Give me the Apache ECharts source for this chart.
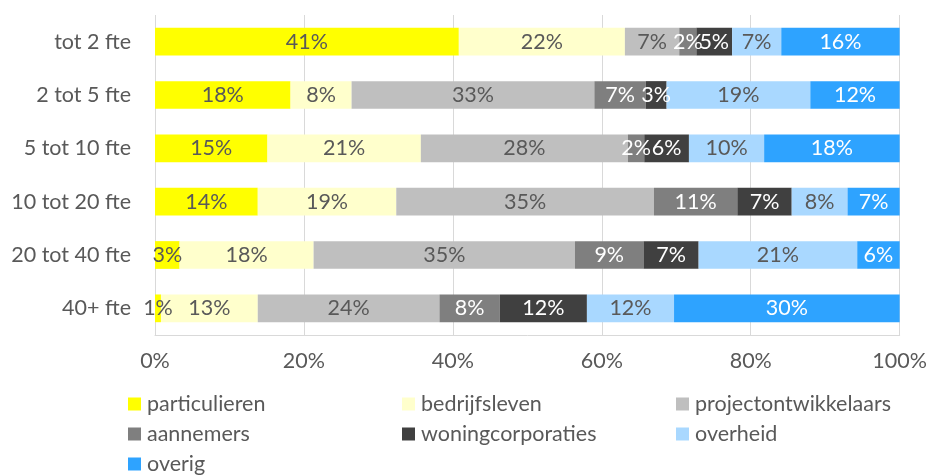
<!DOCTYPE html>
<html>
<head>
<meta charset="utf-8">
<script src="https://cdn.jsdelivr.net/npm/echarts@6/dist/echarts.min.js"></script>
<style>
  html, body { margin: 0; padding: 0; background: #fff; }
  #chart { width: 930px; height: 475px; }
</style>
</head>
<body>
<div id="chart"></div>
<script>
// rows, top to bottom
const categories = ['tot 2 fte', '2 tot 5 fte', '5 tot 10 fte', '10 tot 20 fte', '20 tot 40 fte', '40+ fte']
const seriesNames = ['particulieren', 'bedrijfsleven', 'projectontwikkelaars', 'aannemers', 'woningcorporaties', 'overheid', 'overig']

// share per row (%)
const particulieren = [40.8, 18.2, 15.1, 13.8, 3.3, 0.8]
const bedrijfsleven = [22.3, 8.2, 20.6, 18.6, 18.0, 13.0]
const projectontwikkelaars = [7.3, 32.6, 27.8, 34.6, 35.1, 24.4]
const aannemers = [2.3, 6.9, 2.2, 11.2, 9.2, 8.1]
const woningcorporaties = [4.8, 2.8, 6.0, 7.3, 7.4, 11.7]
const overheid = [6.6, 19.3, 10.1, 7.5, 21.3, 11.7]
const overig = [15.9, 12.0, 18.2, 7.0, 5.7, 30.3]

const xTicks = [0, 20, 40, 60, 80, 100]

const values = [particulieren, bedrijfsleven, projectontwikkelaars, aannemers, woningcorporaties, overheid, overig]
const colors = ['#FFFF00', '#FFFFCC', '#BFBFBF', '#7F7F7F', '#404040', '#A9D8FF', '#2EA3FF']
const labelColors = ['#595959', '#595959', '#595959', '#FFFFFF', '#FFFFFF', '#595959', '#FFFFFF']

const font = 'Lato'
const fontSize = 21.5

const chart = echarts.init(document.getElementById('chart'), null, { renderer: 'canvas' })

const series = seriesNames.map((name, i) => ({
  name,
  type: 'bar',
  stack: 'total',
  barCategoryGap: '48%',
  itemStyle: { color: colors[i] },
  label: {
    show: true,
    position: 'inside',
    color: labelColors[i],
    fontFamily: font,
    fontSize,
    formatter: (p) => Math.round(p.value) + '%',
  },
  emphasis: { disabled: true },
  data: values[i],
}))

// three legend columns, like the original
const legendBase = {
  orient: 'vertical',
  top: 393,
  height: 100,
  padding: 0,
  itemWidth: 13,
  itemHeight: 13,
  itemGap: 8,
  icon: 'rect',
  textStyle: { color: '#595959', fontFamily: font, fontSize, lineHeight: 22, padding: [0, 0, 0, 1] },
  selectedMode: false,
}

chart.setOption({
  animation: false,
  grid: { left: 155, right: 30, top: 15, bottom: 140, containLabel: false },
  xAxis: {
    type: 'value',
    min: 0,
    max: 100,
    interval: 20,
    axisLine: { show: true, lineStyle: { color: '#D9D9D9' } },
    axisTick: { show: false },
    splitLine: { lineStyle: { color: '#D9D9D9' } },
    axisLabel: {
      margin: 15,
      color: '#595959',
      fontFamily: font,
      fontSize,
      formatter: (v) => (xTicks.includes(v) ? v + '%' : ''),
    },
  },
  yAxis: {
    type: 'category',
    inverse: true,
    data: categories,
    axisLine: { show: false },
    axisTick: { show: false },
    axisLabel: { margin: 24, color: '#595959', fontFamily: font, fontSize },
  },
  legend: [
    { ...legendBase, left: 128, data: ['particulieren', 'aannemers', 'overig'] },
    { ...legendBase, left: 402, data: ['bedrijfsleven', 'woningcorporaties'] },
    { ...legendBase, left: 676, data: ['projectontwikkelaars', 'overheid'] },
  ],
  series,
})
</script>
</body>
</html>
